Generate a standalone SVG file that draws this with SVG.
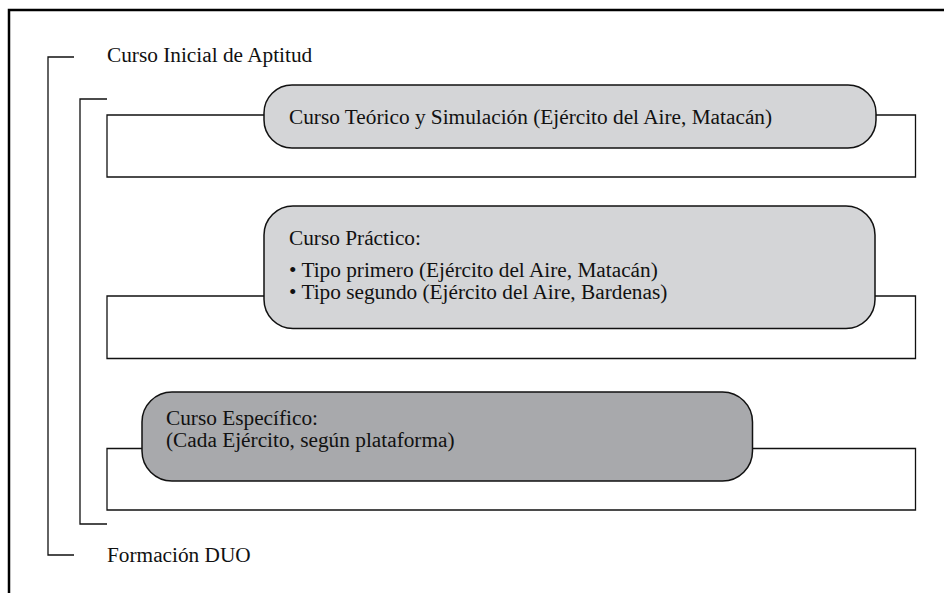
<svg xmlns="http://www.w3.org/2000/svg" width="944" height="593" viewBox="0 0 944 593">
<style>
.t{font-family:"Liberation Serif","Times New Roman",serif;font-size:21.3px;fill:#111}
.ln{fill:none;stroke:#111;stroke-width:1.3}
.fr{fill:none;stroke:#000;stroke-width:2.5}
.n1{fill:#d4d5d7;stroke:#111;stroke-width:1.5}
.n3{fill:#a8a9ac;stroke:#111;stroke-width:1.5}
</style>
<rect width="944" height="593" fill="#fff"/>
<g id="frame"><path class="fr" d="M9,593 V10 H944"/></g>
<g id="connectors">
<path class="ln" d="M74,57 H48 V555 H74"/>
<path class="ln" d="M107,99 H80 V524 H107"/>
<path class="ln" d="M264,115 H107 V177 H915.5 V115 H876"/>
<path class="ln" d="M264,296 H107 V358.5 H915.5 V296 H875"/>
<path class="ln" d="M142,448.5 H107 V510 H915.5 V448.5 H752.5"/>
</g>
<g id="label-top"><text class="t" x="107" y="62">Curso Inicial de Aptitud</text></g>
<g id="label-bottom"><text class="t" x="107" y="562">Formación DUO</text></g>
<g id="node-teorico">
<rect class="n1" x="264" y="85" width="612" height="63" rx="28" ry="28"/>
<text class="t" x="289" y="124">Curso Teórico y Simulación (Ejército del Aire, Matacán)</text>
</g>
<g id="node-practico">
<rect class="n1" x="264" y="206" width="611" height="122.5" rx="29" ry="29"/>
<text class="t" x="289" y="245">Curso Práctico:</text>
<text class="t" x="289" y="277">• Tipo primero (Ejército del Aire, Matacán)</text>
<text class="t" x="289" y="299">• Tipo segundo (Ejército del Aire, Bardenas)</text>
</g>
<g id="node-especifico">
<rect class="n3" x="142" y="392" width="610.5" height="89" rx="30" ry="30"/>
<text class="t" x="166" y="425">Curso Específico:</text>
<text class="t" x="166" y="447">(Cada Ejército, según plataforma)</text>
</g>
</svg>
